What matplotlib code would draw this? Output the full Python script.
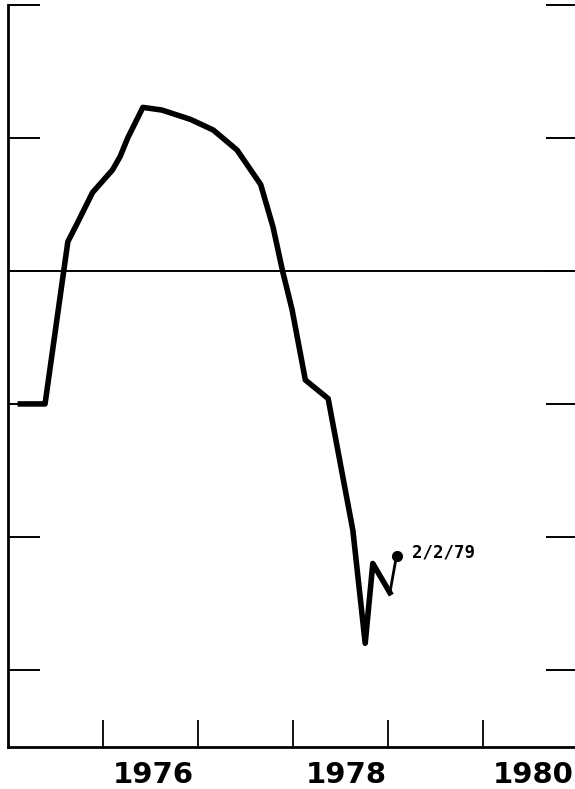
import matplotlib
matplotlib.use("Agg")
import matplotlib.pyplot as plt
from matplotlib.ticker import FixedLocator, NullFormatter, FixedFormatter

# series: decimal year vs. index level (units of one tick step)
dates = [1975.13, 1975.39, 1975.63, 1975.73, 1975.89, 1976.10, 1976.18,
         1976.26, 1976.42, 1976.62, 1976.92, 1977.16, 1977.41, 1977.66,
         1977.79, 1977.89, 1977.99, 1978.13, 1978.37, 1978.53, 1978.63,
         1978.76, 1978.84, 1979.02]
values = [-1.00, -1.00, 0.22, 0.36, 0.59, 0.76, 0.86,
          1.00, 1.23, 1.21, 1.14, 1.06, 0.91, 0.65,
          0.33, 0.00, -0.29, -0.82, -0.96, -1.57, -1.95,
          -2.80, -2.20, -2.42]
last_date, last_value = 1979.09, -2.14
last_label = "2/2/79"

year_ticks = [1976, 1977, 1978, 1979, 1980]
year_labels = ["1976", "1978", "1980"]
year_label_pos = [1976.53, 1978.56, 1980.53]
level_ticks = [-3, -2, -1, 0, 1, 2]

fig = plt.figure(figsize=(5.75, 7.89), dpi=100)
ax = fig.add_axes([8 / 575, 42 / 789, 570 / 575, 742 / 789])

ax.plot(dates, values, color="black", lw=4.0, solid_joinstyle="round")
ax.plot([dates[-1], last_date], [values[-1], last_value], color="black", lw=2.0)
ax.plot([last_date], [last_value], "o", color="black", ms=7)
ax.text(last_date + 0.16, last_value + 0.02, last_label, fontsize=12.5,
        fontweight="bold", va="center", ha="left", family="DejaVu Sans Mono")

ax.axhline(0, color="black", lw=1.4)

ax.set_xlim(1975, 1981)
ax.set_ylim(-3.58, 2.0)

ax.xaxis.set_major_locator(FixedLocator(year_ticks))
ax.xaxis.set_major_formatter(NullFormatter())
ax.xaxis.set_minor_locator(FixedLocator(year_label_pos))
ax.xaxis.set_minor_formatter(FixedFormatter(year_labels))
ax.tick_params(axis="x", which="major", direction="in", length=19.5, width=1.3)
ax.tick_params(axis="x", which="minor", length=0, labelsize=21, pad=10)
for lbl in ax.xaxis.get_minorticklabels():
    lbl.set_fontweight("bold")

ax.set_yticks(level_ticks)
ax.set_yticklabels([])
ax.tick_params(axis="y", which="major", direction="in", length=23, width=1.4,
               left=True, right=True)

ax.spines["top"].set_visible(False)
ax.spines["right"].set_visible(False)
ax.spines["left"].set_linewidth(2.0)
ax.spines["bottom"].set_linewidth(2.0)

fig.savefig("out.png", dpi=100)
